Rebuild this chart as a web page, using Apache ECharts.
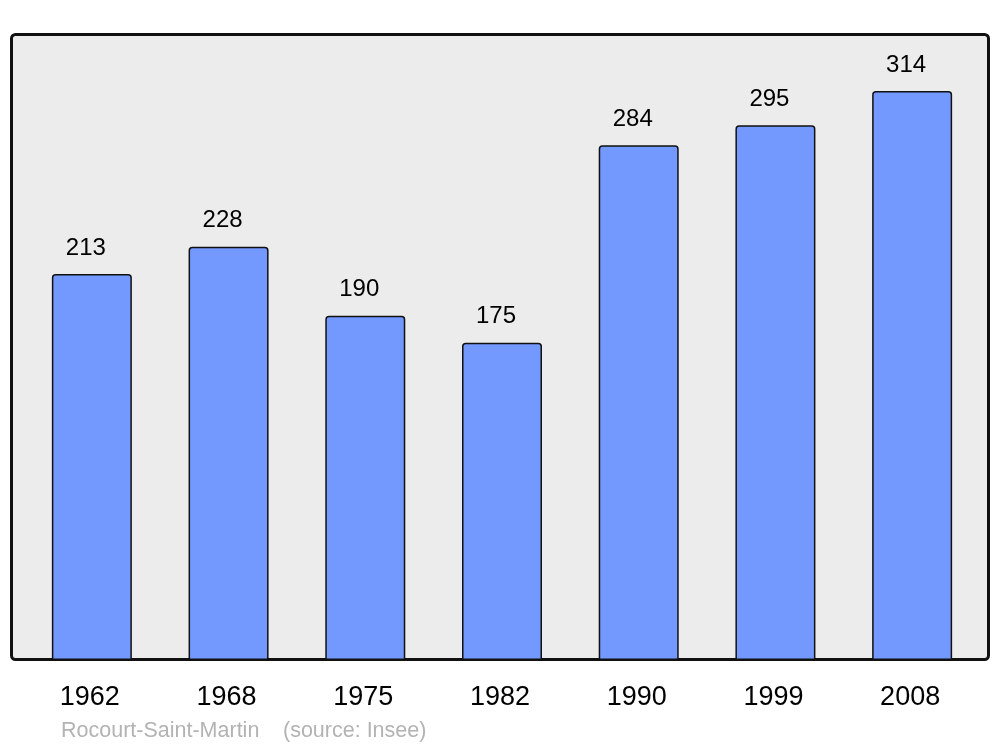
<!DOCTYPE html>
<html>
<head>
<meta charset="utf-8">
<script src="https://cdn.jsdelivr.net/npm/echarts@6/dist/echarts.min.js"></script>
<style>
    html, body { margin: 0; padding: 0; background: #fff; }
    #chart { width: 1000px; height: 747px; }
</style>
</head>
<body>
<div id="chart"></div>
<script>
    // population par recensement
    var years = ['1962', '1968', '1975', '1982', '1990', '1999', '2008'];
    var population = [213, 228, 190, 175, 284, 295, 314];
    var commune = 'Rocourt-Saint-Martin';
    var source = '(source: Insee)';

    var myChart = echarts.init(document.getElementById('chart'));
    var font = '"Liberation Sans", Arial, sans-serif';

    var option = {
        animation: false,
        backgroundColor: '#ffffff',
        textStyle: { fontFamily: font },
        grid: {
            left: 23.5,
            right: 19.5,
            top: 34,
            bottom: 87
        },
        graphic: [
            {
                type: 'rect',
                z: -1,
                shape: { x: 11.5, y: 34.5, width: 977, height: 625, r: 4 },
                style: { fill: '#ececec', stroke: '#111', lineWidth: 3 }
            },
            {
                type: 'text',
                left: 61,
                top: 720,
                style: { text: commune, fill: '#b3b3b3', font: '21.5px ' + font }
            },
            {
                type: 'text',
                left: 283,
                top: 720,
                style: { text: source, fill: '#b3b3b3', font: '21.5px ' + font }
            }
        ],
        xAxis: {
            type: 'category',
            data: years,
            axisLine: { show: false },
            axisTick: { show: false },
            axisLabel: {
                color: '#000',
                fontSize: 27,
                margin: 24,
                padding: [0, 4, 0, 0],
                fontFamily: font
            }
        },
        yAxis: {
            type: 'value',
            min: 0,
            max: 345.4,
            show: false,
            splitLine: { show: false }
        },
        series: [
            {
                type: 'bar',
                data: population,
                barWidth: 80,
                itemStyle: {
                    color: '#7399ff',
                    borderColor: '#111',
                    borderWidth: 1.5,
                    borderRadius: [3, 3, 0, 0]
                },
                label: {
                    show: true,
                    position: 'top',
                    distance: 14,
                    offset: [-6, 0],
                    color: '#000',
                    fontSize: 24,
                    fontFamily: font
                }
            }
        ]
    };

    myChart.setOption(option);
</script>
</body>
</html>
